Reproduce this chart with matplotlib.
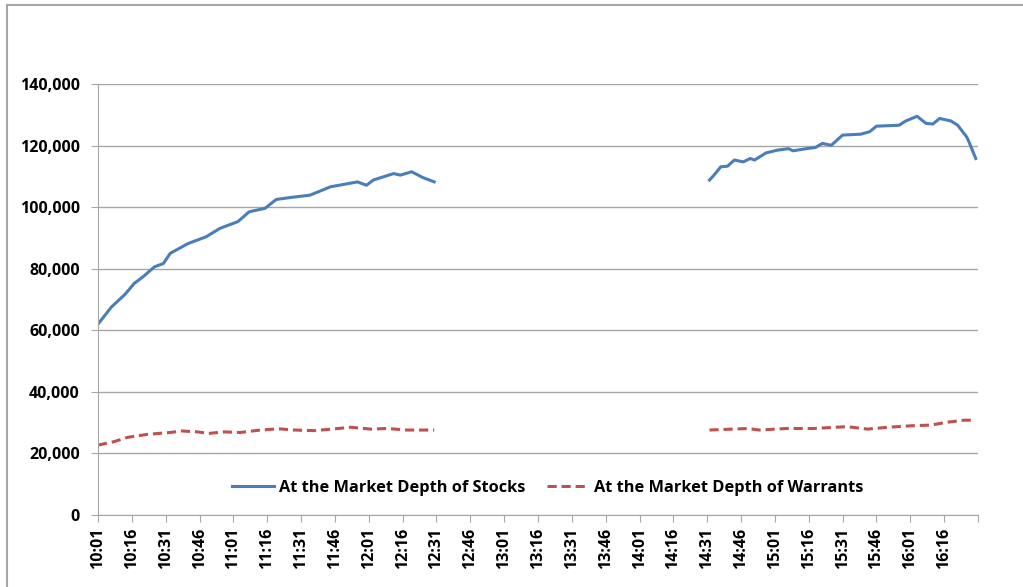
import numpy as np
import matplotlib
matplotlib.use("Agg")
from matplotlib import pyplot as plt
from matplotlib.ticker import FuncFormatter

plt.rcParams["font.family"] = ["Open Sans", "DejaVu Sans"]
plt.rcParams["font.weight"] = "bold"

# minutes after 10:01
stock_am_min = [0, 6, 12, 16, 20, 25, 29, 32, 40, 48, 54, 62, 67, 74, 79, 85, 94, 103, 115, 119, 122, 131, 134, 139, 144, 149]
stock_am_val = [62.0, 67.6, 71.7, 75.2, 77.4, 80.6, 81.7, 85.0, 88.2, 90.4, 93.1, 95.3, 98.5, 99.6, 102.5, 103.1,
                103.9, 106.6, 108.2, 107.1, 108.8, 110.9, 110.4, 111.5, 109.6, 108.2]
stock_pm_min = [271, 273, 276, 279, 282, 286, 289, 291, 296, 301, 306, 308, 314, 318, 321, 325, 330, 338, 342, 345,
                355, 358, 363, 367, 370, 373, 378, 381, 385, 386, 389]
stock_pm_val = [108.8, 110.4, 113.1, 113.3, 115.3, 114.7, 115.8, 115.3, 117.6, 118.5, 119.0, 118.3, 119.0, 119.4,
                120.7, 120.1, 123.4, 123.7, 124.5, 126.3, 126.6, 128.0, 129.5, 127.2, 127.0, 128.8, 128.0, 126.6,
                122.8, 121.2, 115.8]

warr_am_min = [0, 7, 13, 22, 32, 37, 44, 49, 56, 63, 72, 80, 87, 96, 105, 112, 121, 128, 137, 149]
warr_am_val = [22.7, 23.8, 25.2, 26.2, 26.8, 27.3, 27.0, 26.5, 27.0, 26.8, 27.6, 28.0, 27.6, 27.4, 28.0, 28.5,
               27.9, 28.1, 27.6, 27.6]
warr_pm_min = [271, 288, 293, 305, 317, 332, 341, 350, 361, 369, 376, 384, 389]
warr_pm_val = [27.6, 28.1, 27.6, 28.1, 28.1, 28.7, 27.9, 28.5, 29.0, 29.2, 30.1, 30.8, 30.8]

n_minutes = 390
tick_min = list(range(0, n_minutes, 15))


def minute_label(m):
    t = 10 * 60 + 1 + m
    return f"{t // 60}:{t % 60:02d}"


tick_labels = [minute_label(m) for m in tick_min]

blue = "#4a7ebb"
red = "#c0504d"
grid = "#a6a6a6"

fig = plt.figure(figsize=(10.23, 5.87), dpi=100)
ax = fig.add_axes([98 / 1023, 1 - 515 / 587, 880 / 1023, 431 / 587])

# outer chart border (only top and left visible)
fig.add_artist(plt.Line2D([7 / 1023, 7 / 1023], [0, 1 - 5 / 587], transform=fig.transFigure, color=grid, lw=1.5))
fig.add_artist(plt.Line2D([7 / 1023, 1], [1 - 5 / 587, 1 - 5 / 587], transform=fig.transFigure, color=grid, lw=1.5))

ax.plot(stock_am_min, np.array(stock_am_val) * 1000, color=blue, lw=2.2, label="At the Market Depth of Stocks")
ax.plot(stock_pm_min, np.array(stock_pm_val) * 1000, color=blue, lw=2.2)
ax.plot(warr_am_min, np.array(warr_am_val) * 1000, color=red, lw=2.2, ls=(0, (3, 1.6)),
        label="At the Market Depth of Warrants")
ax.plot(warr_pm_min, np.array(warr_pm_val) * 1000, color=red, lw=2.2, ls=(0, (3, 1.6)))

ax.set_xlim(0, n_minutes)
ax.set_ylim(0, 140000)
ax.set_yticks(np.arange(0, 140001, 20000))
ax.yaxis.set_major_formatter(FuncFormatter(lambda v, p: f"{int(v):,}"))
ax.set_xticks(tick_min + [n_minutes])
ax.set_xticklabels(tick_labels + [""], rotation=90)
for lab in ax.get_xticklabels() + ax.get_yticklabels():
    lab.set_fontweight("bold")
ax.grid(axis="y", color=grid, lw=1)
ax.set_axisbelow(True)

for s in ["top", "right"]:
    ax.spines[s].set_visible(False)
for s in ["left", "bottom"]:
    ax.spines[s].set_color(grid)
ax.tick_params(axis="both", colors=grid, labelcolor="black", labelsize=11.5, length=5)
ax.tick_params(axis="x", pad=4)
ax.tick_params(axis="y", pad=8)

leg = ax.legend(loc="center", bbox_to_anchor=(0.511, 0.063), ncol=2, frameon=False,
                handlelength=2.6, columnspacing=1.3, handletextpad=0.3, prop={"weight": "bold", "size": 11.75})

fig.savefig("out.png", dpi=100)
